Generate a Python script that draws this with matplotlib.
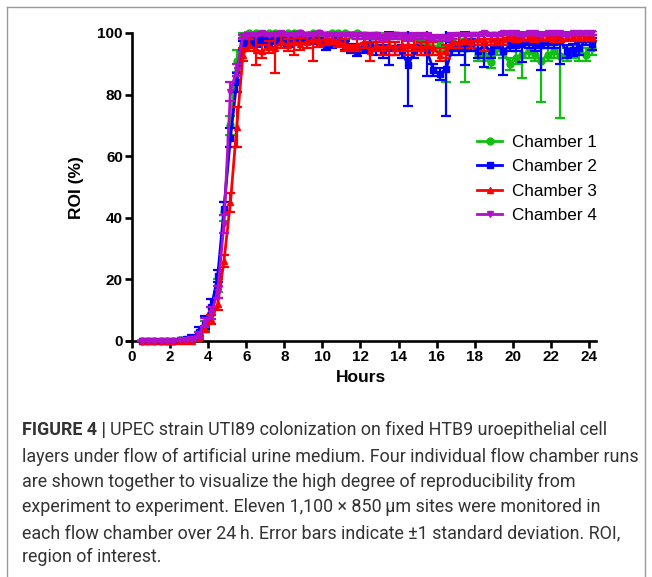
import matplotlib
matplotlib.use("Agg")
import matplotlib.pyplot as plt
from matplotlib.lines import Line2D
import numpy as np

hours = [0.5, 0.83, 1.17, 1.5, 1.83, 2.17, 2.5, 2.83, 3.17, 3.5, 3.83, 4.17,
         4.5, 4.83, 5.17, 5.5, 5.83, 6.17, 6.5, 6.83, 7.17, 7.5, 7.83, 8.17,
         8.5, 8.83, 9.17, 9.5, 9.83, 10.17, 10.5, 10.83, 11.17, 11.5, 11.83, 12.17,
         12.5, 12.83, 13.17, 13.5, 13.83, 14.17, 14.5, 14.83, 15.17, 15.5, 15.83, 16.17,
         16.5, 16.83, 17.17, 17.5, 17.83, 18.17, 18.5, 18.83, 19.17, 19.5, 19.83, 20.17,
         20.5, 20.83, 21.17, 21.5, 21.83, 22.17, 22.5, 22.83, 23.17, 23.5, 23.83, 24.17]

ch1_mean = [0, 0, 0, 0, 0, 0, 0.2, 0.3, 0.6, 2, 5, 9,
            18, 42, 70, 91, 99, 100, 100, 99.5, 100, 100, 99.5, 100,
            100, 100, 99.5, 100, 100, 99.5, 100, 100, 100, 99.5, 100, 99.5,
            99, 99.5, 99, 99, 99.5, 99, 99, 98.5, 98, 97.5, 95, 96,
            95, 97, 96, 95, 96, 93, 93, 90.5, 95, 94, 90, 92,
            93, 94, 93, 91, 93, 94, 92.5, 93, 94, 94, 93, 95]
ch1_sd = [0, 0, 0, 0, 0, 0, 0.2, 0.3, 0.5, 1, 1.5, 2,
          2, 3, 3, 3.5, 1, 0.5, 0.5, 0.5, 0.5, 0.5, 0.5, 0.5,
          0.5, 0.5, 0.5, 0.5, 0.5, 0.5, 0.5, 0.5, 0.5, 0.5, 0.5, 0.5,
          1, 0.5, 1, 1, 0.5, 1, 1, 1, 1.5, 1.5, 2, 2,
          11, 2, 2, 11, 2, 2, 2, 2, 2, 2, 2, 2,
          7.5, 2, 2, 13.5, 2, 2, 20, 2, 2, 3, 2, 2]

ch2_mean = [0, 0, 0, 0, 0, 0, 0.2, 0.5, 1, 3, 6, 11,
            21, 43, 66, 84, 96, 97, 97, 98, 97, 98, 98, 97,
            98, 98, 98, 98, 97, 96, 96.5, 97, 96, 95, 94, 95,
            96, 95, 94, 95, 95, 94, 89.6, 94, 95, 94, 88, 86.6,
            88.4, 95, 95, 95, 96, 94, 96, 94, 97, 94, 96, 96,
            96.5, 97, 96, 96, 97, 97, 97.5, 94, 94.5, 95, 98, 96.5]
ch2_sd = [0, 0, 0, 0, 0, 0, 0.2, 0.4, 0.8, 1.5, 2, 2.5,
          2, 2, 3, 3, 1.5, 1.5, 1.5, 1.5, 1.5, 1.5, 1.5, 1.5,
          1.5, 1.5, 1.5, 1.5, 1.5, 1.5, 1.5, 1.5, 1.5, 1.5, 1.5, 1.5,
          2, 2, 2, 5.5, 2, 2, 13.3, 2, 2, 8, 2, 2,
          15.4, 2, 2, 5.5, 2, 2, 7, 2, 2, 7.5, 2, 2,
          6, 2, 2, 8, 2, 2, 7.5, 2, 2, 2, 2, 2]

ch3_mean = [0, 0, 0, 0, 0, 0, 0, 0, 0, 1, 4, 7,
            12, 26, 45, 69.5, 93, 96, 94.5, 94, 95.5, 95, 97, 96,
            97, 96.5, 97, 98, 97.5, 98, 98, 97.5, 96, 95, 96, 97,
            94, 96, 95, 96, 95, 96, 96, 96, 95, 96, 95, 93,
            94, 97, 97, 98, 97, 98, 98, 98, 98, 98, 99, 98.5,
            99, 99, 98.5, 99, 99, 98.5, 99, 99, 99, 99, 99, 99]
ch3_sd = [0, 0, 0, 0, 0, 0, 0, 0, 0, 0.5, 1, 1.5,
          2, 2, 3, 6.5, 2, 2, 5, 2, 2, 8, 2, 2,
          4, 2, 2, 7, 2, 2, 1.5, 2, 2, 1, 2, 2,
          3, 2, 2, 3, 2, 2, 3, 2, 2, 3, 2, 2,
          2, 2, 2, 1.5, 2, 2, 4, 2, 2, 2, 1.5, 1.5,
          1.5, 1.5, 1.5, 1.5, 1.5, 1.5, 2, 1.5, 1.5, 1.5, 1.5, 1.5]

ch4_mean = [0, 0, 0, 0, 0, 0, 0.2, 0.4, 0.8, 2, 6, 9,
            16, 38, 81, 88, 99, 99.5, 99.5, 100, 99.5, 99.5, 100, 99.5,
            99.5, 100, 99.5, 99.5, 100, 99.5, 99.5, 99.5, 99.5, 99.5, 99, 99,
            99, 99, 98.5, 99, 99, 99, 98.5, 99, 99, 99, 98.5, 98.5,
            98.5, 99, 99.5, 99.5, 99.5, 99.5, 100, 99.5, 99.5, 100, 100, 100,
            99.5, 100, 100, 99.5, 100, 100, 100, 99.5, 100, 100, 100, 100]
ch4_sd = [0, 0, 0, 0, 0, 0, 0.2, 0.3, 0.5, 1, 1.5, 2,
          2, 3, 3, 2, 0.5, 0.5, 0.5, 0.5, 0.5, 0.5, 0.5, 0.5,
          0.5, 0.5, 0.5, 0.5, 0.5, 0.5, 0.5, 0.5, 0.5, 0.5, 1, 1,
          1, 1, 1, 1, 1, 1, 1, 1, 1, 1, 1, 1,
          1, 1, 0.5, 0.5, 0.5, 0.5, 0.5, 0.5, 0.5, 0.5, 0.5, 0.5,
          0.5, 0.5, 0.5, 0.5, 0.5, 0.5, 0.5, 0.5, 0.5, 0.5, 0.5, 0.5]

labels = ["Chamber 1", "Chamber 2", "Chamber 3", "Chamber 4"]
colors = ["#10C010", "#0000FF", "#FF0000", "#B010C8"]
markers = ["o", "s", "^", "v"]
x_ticks = [0, 2, 4, 6, 8, 10, 12, 14, 16, 18, 20, 22, 24]
y_ticks = [0, 20, 40, 60, 80, 100]

caption_bold = "FIGURE 4 |"
caption_lines = [
    "UPEC strain UTI89 colonization on fixed HTB9 uroepithelial cell",
    "layers under flow of artificial urine medium. Four individual flow chamber runs",
    "are shown together to visualize the high degree of reproducibility from",
    "experiment to experiment. Eleven 1,100 \u00d7 850\u2009\u00b5m sites were monitored in",
    "each flow chamber over 24\u2009h. Error bars indicate \u00b11 standard deviation. ROI,",
    "region of interest.",
]

W, H = 652, 577
fig = plt.figure(figsize=(W / 100, H / 100), dpi=100)
fig.patch.set_facecolor("white")

# border box
for xs, ys in [((7, 7), (7, H + 5)), ((7, 645), (7, 7)), ((645, 645), (7, H + 5))]:
    fig.add_artist(Line2D([x / W for x in xs], [1 - y / H for y in ys],
                          color="#9a9a9a", lw=1.0, transform=fig.transFigure))

xmin, xmax = -0.25, 24.35
ymin, ymax = -0.8, 100.7
px_per_h = 19.04
px_per_pct = 3.08
ax_left = 132 + xmin * px_per_h
ax_right = 132 + xmax * px_per_h
ax_bottom = 341 - ymin * px_per_pct
ax_top = 341 - ymax * px_per_pct
ax = fig.add_axes([ax_left / W, 1 - ax_bottom / H, (ax_right - ax_left) / W,
                   (ax_bottom - ax_top) / H])
ax.set_xlim(xmin, xmax)
ax.set_ylim(ymin, ymax)

LW = 2.0
MS = 5.0
series = [(ch1_mean, ch1_sd), (ch2_mean, ch2_sd), (ch3_mean, ch3_sd), (ch4_mean, ch4_sd)]
for i, (m, s) in enumerate(series):
    ax.errorbar(hours, m, yerr=s, color=colors[i], lw=LW, elinewidth=1.6,
                capsize=3.5, capthick=1.6, marker=None, zorder=2 + i)
    ax.plot(hours, m, linestyle="none", marker=markers[i], ms=MS,
            color=colors[i], zorder=2 + i, clip_on=False)

for side in ["top", "right"]:
    ax.spines[side].set_visible(False)
ax.spines["left"].set_position(("data", 0))
ax.spines["bottom"].set_position(("data", 0))
ax.spines["left"].set_bounds(0, 100)
for side in ["left", "bottom"]:
    ax.spines[side].set_linewidth(1.9)
ax.set_xticks(x_ticks)
ax.set_yticks(y_ticks)
ax.tick_params(axis="both", direction="out", length=5, width=1.9, pad=1.5,
               labelsize=11)
for lab in ax.get_xticklabels() + ax.get_yticklabels():
    lab.set_fontfamily("Liberation Sans")
    lab.set_fontweight("bold")
ax.set_xlabel("Hours", fontfamily="Liberation Sans", fontweight="bold",
              fontsize=12.5, labelpad=4)
ax.set_ylabel("ROI (%)", fontfamily="Liberation Sans", fontweight="bold",
              fontsize=12.5, labelpad=10)
ax.patch.set_alpha(0)

handles = [Line2D([0], [0], color=colors[i], lw=LW, marker=markers[i], ms=MS)
           for i in range(4)]
leg = ax.legend(handles, labels, loc="upper left",
                bbox_to_anchor=((470 - ax_left) / (ax_right - ax_left),
                                (ax_bottom - 128) / (ax_bottom - ax_top)),
                frameon=False, prop={"family": "Liberation Sans", "size": 12.3},
                handlelength=1.5, handletextpad=0.55, labelspacing=0.55,
                borderaxespad=0)

# caption
cap_x = 22 / W
line_y = [430, 457, 482, 507, 533, 557]
cap_font = dict(family=["Roboto", "DejaVu Sans"], size=12.9, color="#333333")
fig.canvas.draw()
renderer = fig.canvas.get_renderer()
tb = fig.text(cap_x, 1 - line_y[0] / H, caption_bold, fontweight="bold",
              va="center", ha="left", **cap_font)
bb = tb.get_window_extent(renderer)
space = 4
fig.text((bb.x1 + space) / W, 1 - line_y[0] / H, caption_lines[0], va="center",
         ha="left", fontweight="normal", **cap_font)
for i in range(1, len(caption_lines)):
    fig.text(cap_x, 1 - line_y[i] / H, caption_lines[i], va="center", ha="left",
             fontweight="normal", **cap_font)

fig.savefig("out.png", dpi=100, facecolor="white")
